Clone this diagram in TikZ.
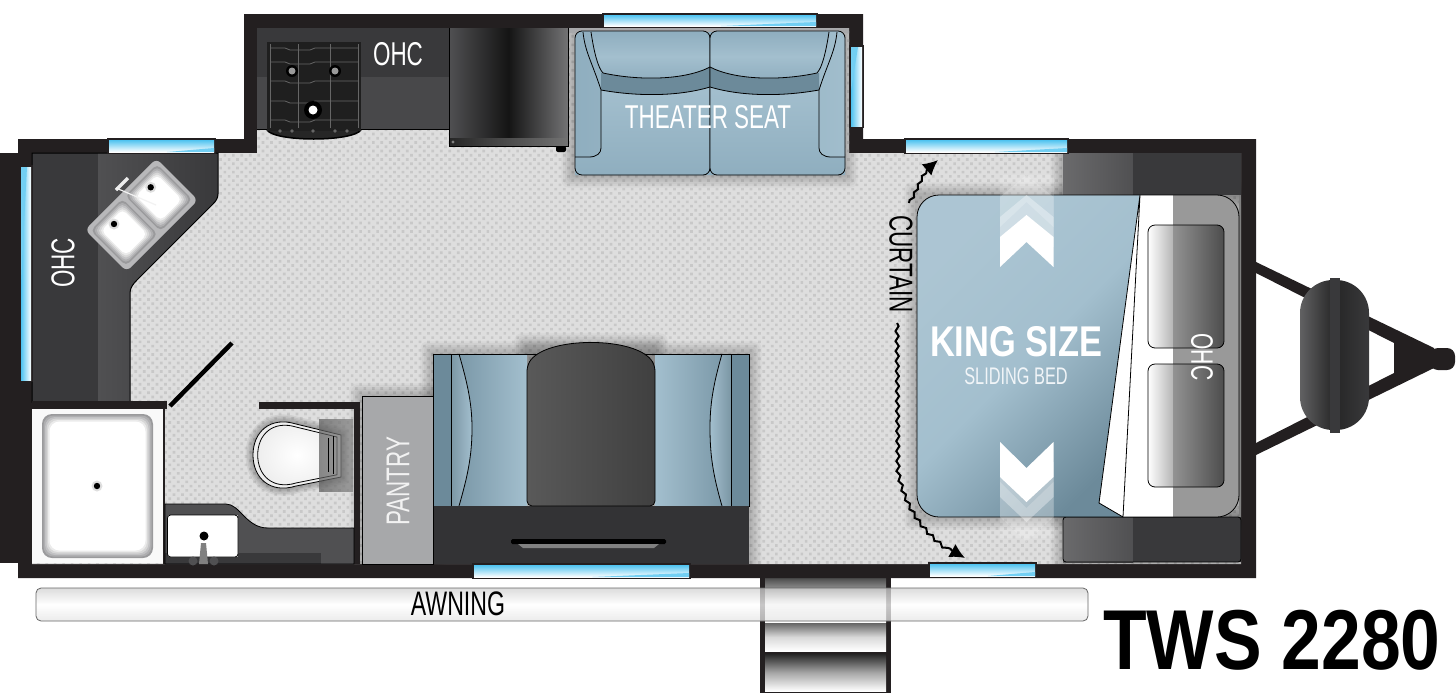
\documentclass[tikz,border=0pt]{standalone}
\usepackage{fontspec}
\usepackage{xcolor}
\usepackage{tikz}
\usetikzlibrary{arrows.meta,decorations.pathmorphing,patterns.meta}
\newfontfamily\signfont[FakeStretch=0.68]{Liberation Sans}
\newfontfamily\kingfont[FakeStretch=0.8]{Liberation Sans}
\newfontfamily\modelfont[FakeStretch=0.84]{Liberation Sans}
\definecolor{wallblack}{HTML}{231F20}
\definecolor{cabdark}{HTML}{39393B}
\definecolor{cabmid}{HTML}{505052}
\definecolor{floorbase}{HTML}{DEDEDE}
\definecolor{floordot}{HTML}{C8C8C8}
\definecolor{paneblue}{HTML}{4FC3F0}
\definecolor{seatlight}{HTML}{A3BFCE}
\definecolor{seatmid}{HTML}{8FAEBF}
\definecolor{seatdark}{HTML}{6C8A9A}
\definecolor{sidegray}{HTML}{A7A8AA}
\definecolor{bowlgray}{HTML}{9A9A9C}
\tikzset{
    signlabel/.style={font=\signfont\fontsize{#1}{#1}\selectfont,inner sep=0pt,text=white},
    rimline/.style={draw=black,line width=.8pt},
    drainring/.style={fill=white!75!gray},
    curtainline/.style={-{Latex[length=15pt,width=15pt]},black,line width=2pt,decorate},
}
\newcommand{\paneh}[4]{
    \fill[wallblack] (#1,#2) rectangle (#3,#4);
    \shade[top color=paneblue,bottom color=white] (#1+2,#2+2) rectangle (#3-2,#4-2);
    \fill[paneblue!80] ({#1+(#3-#1)*.55},#4-2) -- (#3-2,#4-2) -- (#3-2,#4-6) -- cycle;
}
\newcommand{\panev}[4]{
    \fill[wallblack] (#1,#2) rectangle (#3,#4);
    \shade[left color=paneblue,right color=white] (#1+2,#2+2) rectangle (#3-2,#4-2);
    \fill[paneblue!80] (#1+2,#2+2) -- (#3-6,#2+2) -- (#1+2,{#2+(#4-#2)*.55}) -- cycle;
}
\newcommand{\softshadow}[4]{
    \foreach \g in {1,...,7}{
        \fill[black,opacity=.032,rounded corners=\g pt] (#1-\g*1.8,#2-\g*1.8) rectangle (#3+\g*1.8,#4+\g*1.8);
    }
}
\newcommand{\softbowl}[5]{
    \foreach \g [evaluate=\g as \p using \g*20] in {0,...,5}{
        \fill[white!\p!bowlgray,rounded corners=#5] (#1+\g*1.5,#2+\g*1.5) rectangle (#3-\g*1.5,#4-\g*1.5);
    }
}
\newcommand{\drainhole}[2]{
    \fill[drainring] (#1,#2) circle (5.5);
    \fill[black] (#1,#2) circle (3.2);
}
\newcommand{\sofahalf}{
    \shade[left color=seatmid,right color=seatlight!90!seatmid,rounded corners=7pt] (575,31) rectangle (710,175);
    \shade[top color=seatlight,bottom color=seatmid] (601,90) .. controls (640,97) and (680,96) .. (710,87) -- (710,175) -- (575,175) -- (575,157) -- (589,157) .. controls (597,157) and (601,153) .. (601,148) -- cycle;
    \fill[seatdark] (601,73) .. controls (640,81) and (685,80) .. (710,67) -- (710,87) .. controls (680,96) and (640,97) .. (601,90) -- cycle;
    \shade[top color=seatmid,bottom color=seatmid,middle color=seatlight] (591,32) .. controls (594,52) and (598,68) .. (603,73) .. controls (640,81) and (685,80) .. (710,67) -- (710,32) -- cycle;
    \draw[rimline] (583,32) .. controls (585,52) and (592,62) .. (601,90) -- (601,148) .. controls (601,153) and (597,157) .. (589,157) -- (575,157);
    \draw[rimline] (591,32) .. controls (594,52) and (598,68) .. (603,73) .. controls (640,81) and (685,80) .. (710,67);
    \draw[rimline] (601,90) .. controls (640,97) and (680,96) .. (710,87);
    \draw[rimline,rounded corners=7pt] (575,31) rectangle (710,175);
}
\newcommand{\pillow}[2]{
    \begin{scope}
        \clip[rounded corners=7pt] (1148,#1) rectangle (1224,#2);
        \shade[left color=white,right color=gray!60] (1148,#1) rectangle (1174,#2);
        \shade[left color=gray!85,right color=black!70] (1173,#1) rectangle (1224,#2);
    \end{scope}
    \draw[rimline,rounded corners=7pt] (1148,#1) rectangle (1224,#2);
}
\newcommand{\chevronup}{(1000,237) -- (1026.5,215) -- (1053.5,237) -- (1053.5,267) -- (1026.5,242) -- (1000,267) -- cycle}
\newcommand{\chevrondown}{(1000,442) -- (1026.5,468) -- (1053.5,442) -- (1053.5,477) -- (1026.5,502) -- (1000,477) -- cycle}
\newcommand{\galleypath}{(32,153) -- (218,153) -- (218,194) .. controls (218,198) and (216,201) .. (213,204) -- (137,280) .. controls (133,284) and (130,288) .. (130,293) -- (130,402) -- (32,402) -- cycle}
\newcommand{\vanitypath}{(165,504) -- (226,504) .. controls (240,504) and (246,528) .. (268,528) -- (354,528) -- (354,564) -- (165,564) -- cycle}
\newcommand{\toiletpath}{(341,435) -- (296,424) .. controls (270,416) and (253,432) .. (253,455) .. controls (253,478) and (270,494) .. (296,486) -- (341,477) -- cycle}
\begin{document}
\begin{tikzpicture}[x=1pt,y=-1pt]

    \useasboundingbox (0,0) rectangle (1456,694);
    \fill[white] (0,0) rectangle (1456,694);

    % hitch
    \fill[wallblack] (1256,262) -- (1434,348) -- (1434,368) -- (1256,455) -- (1256,443) -- (1394,373) -- (1394,343) -- (1256,273) -- cycle;
    \fill[wallblack,rounded corners=8pt] (1430,348) rectangle (1455,370);
    \shade[left color=cabdark!80!white,right color=cabdark,middle color=black!85,rounded corners=33pt] (1300,280) rectangle (1369,430);
    \fill[cabdark] (1330,278) rectangle (1340,433);

    % steps and awning
    \fill[wallblack] (760,578) rectangle (891,693);
    \shade[top color=black!70,bottom color=white,middle color=black!15] (765,578) rectangle (886,622);
    \shade[top color=black!60,bottom color=white,middle color=black!15] (765,623) rectangle (886,651);
    \shade[top color=black!85,bottom color=white,middle color=black!35] (765,654) rectangle (886,691);
    \shade[top color=black!18,bottom color=black!10,middle color=white,opacity=.75,rounded corners=5pt] (36,588) rectangle (1088,621);
    \draw[black!60,line width=.8pt,rounded corners=5pt] (36,588) rectangle (1088,621);
    \node[signlabel=34,text=black] (awninglabel) at (458,604) {AWNING};

    % shell and floor
    \fill[wallblack] (0,153) rectangle (18,563);
    \fill[wallblack] (18,139) -- (244,139) -- (244,14) -- (863,14) -- (863,139) -- (1256,139) -- (1256,578) -- (18,578) -- cycle;
    \fill[floorbase] (32,153) -- (257,153) -- (257,28) -- (849,28) -- (849,153) -- (1241,153) -- (1241,564) -- (32,564) -- cycle;
    \fill[pattern={Dots[distance=6pt,radius=1.9pt,angle=45]},pattern color=floordot] (32,153) -- (257,153) -- (257,28) -- (849,28) -- (849,153) -- (1241,153) -- (1241,564) -- (32,564) -- cycle;

    \begin{scope}
        \clip (32,153) -- (257,153) -- (257,28) -- (849,28) -- (849,153) -- (1241,153) -- (1241,564) -- (32,564) -- cycle;
        \softshadow{574}{31}{845}{175}
        \softshadow{433}{354}{749}{564}
        \softshadow{527}{346}{655}{400}
        \softshadow{362}{396}{433}{564}
        \softshadow{917}{195}{1239}{517}
        \softshadow{1063}{153}{1241}{195}
        \softshadow{1063}{517}{1241}{564}
    \end{scope}

    % rear galley
    \begin{scope}
        \clip \galleypath;
        \fill[cabdark] (32,153) rectangle (98,402);
        \shade[left color=cabmid,right color=cabdark] (98,153) rectangle (218,402);
    \end{scope}
    \draw[black,line width=1pt] \galleypath;
    \begin{scope}[shift={(141.5,215)},rotate=45]
        \fill[bowlgray!70,rounded corners=6pt] (-50.5,-29.5) rectangle (50.5,29.5);
        \softbowl{-47}{-25}{-2}{25}{5pt}
        \softbowl{2}{-25}{47}{25}{5pt}
    \end{scope}
    \drainhole{150.7}{187.3}
    \drainhole{114}{224}
    \draw[white!85!gray,line width=3.5pt] (116,190) -- (128,178);
    \draw[white!90!gray,line width=1.2pt] (116,188) -- (156,205);
    \node[signlabel=33,rotate=90] (ohcrear) at (63,263) {OHC};

    % bath
    \fill[wallblack] (32,401) rectangle (167,409);
    \fill[white!95!gray] (32,409) rectangle (163,563);
    \fill[wallblack] (163,409) rectangle (165,564);
    \softbowl{42}{414}{153}{558}{10pt}
    \drainhole{97}{486}
    \fill[wallblack] (259,402) rectangle (360,409);
    \fill[wallblack] (354,402) rectangle (360,564);
    \draw[black,line width=4.5pt] (170,406) -- (232,343);
    \begin{scope}
        \clip \vanitypath;
        \fill[cabmid] (165,504) rectangle (354,564);
        \fill[cabdark] (165,553) rectangle (321,564);
    \end{scope}
    \draw[black,line width=.8pt] \vanitypath;
    \fill[white] (167.5,515) rectangle (238,557);
    \draw[black,line width=.8pt,rounded corners=3pt,fill=white] (167.5,515) rectangle (238,557);
    \fill[black] (204,536) circle (4.5);
    \fill[cabmid] (193,561) circle (4.5);
    \fill[cabmid] (214,561) circle (4.5);
    \fill[gray] (201,543) -- (206,543) -- (208,564) -- (199,564) -- cycle;
    \foreach \g in {1,...,5}{
        \draw[black,opacity=.06,line width=\g*3pt] \toiletpath;
    }
    \shade[inner color=white,outer color=white!85!gray,rimline] \toiletpath;
    \draw[black,line width=.8pt,scale around={.9:(300,455)}] \toiletpath;
    \shade[left color=gray!70!black,right color=gray,opacity=.7] (319,419) rectangle (353,491);
    \draw[black,line width=.8pt] (328,438) -- (328,472);
    \draw[black,line width=.8pt] (333,436) -- (333,474);

    % slide-out galley
    \fill[cabdark] (257,28) rectangle (450,77);
    \fill[cabmid!90!black] (257,77) rectangle (450,129);
    \draw[black,line width=1pt] (257,129) -- (450,129);
    \fill[black!85] (267,130) .. controls (275,142) and (352,142) .. (361,130) -- cycle;
    \draw[black,line width=1.5pt] (267,130) .. controls (275,142) and (352,142) .. (361,130);
    \fill[black!88] (267,42) rectangle (361,131);
    \foreach \gy in {48,62,81,101,120}{
        \draw[black!60,line width=.8pt] (270,\gy) -- (285,\gy) -- (290,\gy+2) -- (310,\gy+2) -- (315,\gy) -- (358,\gy);
    }
    \foreach \gx in {270,298,330,358}{
        \draw[black!60,line width=.8pt] (\gx,44) -- (\gx,128);
    }
    \foreach \gx in {280,292,313,335,347}{
        \fill[black!60] (\gx,131) circle (1.8);
    }
    \fill[black] (292,71) circle (6);
    \fill[black!40] (292,71) circle (3.5);
    \fill[black] (335,71) circle (6);
    \fill[black!40] (335,71) circle (3.5);
    \fill[black] (313,110) circle (9);
    \fill[white] (313,110) circle (4.5);
    \node[signlabel=33] (ohcgalley) at (398,54) {OHC};

    \fill[sidegray] (568,28) rectangle (849,33);
    \shade[left color=cabmid,right color=cabmid!80,middle color=black!92] (449,28) rectangle (568,146);
    \shade[left color=black!85,right color=black!55] (449,138) rectangle (568,146);
    \draw[black,line width=.8pt] (449,28) -- (449,146) -- (568,146) -- (568,28);
    \fill[black,rounded corners=2pt] (556,146) rectangle (566,152);
    \fill[black!50] (453,142) circle (1.6);

    % theater seat
    \sofahalf
    \begin{scope}[xshift=1420pt,xscale=-1]
        \sofahalf
    \end{scope}
    \node[signlabel=33] (theaterlabel) at (708,117) {THEATER SEAT};

    % dinette
    \shade[left color=seatdark,right color=seatlight] (433,354) rectangle (527,506);
    \shade[left color=seatlight,right color=seatdark] (655,354) rectangle (749,506);
    \fill[seatdark] (433,354) rectangle (451,506);
    \fill[seatdark] (731,354) rectangle (749,506);
    \shade[left color=seatdark!90,right color=seatlight] (451,354) -- (459,354) .. controls (468,385) and (472,405) .. (472,428) .. controls (472,455) and (468,475) .. (459,506) -- (451,506) -- cycle;
    \shade[left color=seatlight,right color=seatdark!90] (731,354) -- (722,354) .. controls (713,385) and (710,405) .. (710,428) .. controls (710,455) and (713,475) .. (722,506) -- (731,506) -- cycle;
    \draw[rimline] (433,354) rectangle (749,506);
    \draw[rimline] (451,354) -- (451,506);
    \draw[rimline] (731,354) -- (731,506);
    \draw[rimline] (459,354) .. controls (468,385) and (472,405) .. (472,428) .. controls (472,455) and (468,475) .. (459,506);
    \draw[rimline] (722,354) .. controls (713,385) and (710,405) .. (710,428) .. controls (710,455) and (713,475) .. (722,506);
    \fill[cabdark!90!black] (433,506) rectangle (749,564);
    \shade[left color=black!65,right color=black!75,rimline,rounded corners=5pt] (527,506) -- (527,366) .. controls (545,336) and (637,336) .. (655,366) -- (655,506) -- cycle;
    \fill[black,rounded corners=1.5pt] (511,539) rectangle (666,544);
    \fill[gray] (518,544) -- (659,544) -- (654,548) -- (523,548) -- cycle;

    \draw[black,line width=1pt,fill=sidegray] (362,396) rectangle (433,564);
    \node[signlabel=33,rotate=90,text=white!90!gray] (pantrylabel) at (398,481) {PANTRY};

    % slide bed
    \shade[left color=cabmid!85!white,right color=cabmid] (1063,153) rectangle (1133,195);
    \fill[cabdark] (1133,153) rectangle (1241,195);
    \shade[left color=cabmid!85!white,right color=cabmid] (1063,517) rectangle (1133,562);
    \fill[cabdark] (1133,517) rectangle (1241,562);
    \draw[black,line width=.8pt,rounded corners=3pt] (1063,517) rectangle (1241,562);
    \fill[gray] (1239,195) rectangle (1241,517);
    \begin{scope}
        \clip[rounded corners=22pt] (917,195) rectangle (1239,517);
        \fill[white] (917,195) rectangle (1239,517);
        \fill[gray!80] (1173,195) rectangle (1239,517);
        \pillow{225}{348}
        \pillow{364}{487}
        \shade[top color=seatlight!90!white,bottom color=seatdark,middle color=seatlight,shading angle=45] (917,195) -- (1140,195) -- (1099,503) -- (1123,517) -- (917,517) -- cycle;
        \draw[rimline] (1140,195) -- (1099,503) -- (1123,517) -- cycle;
    \end{scope}
    \draw[rimline,rounded corners=22pt] (917,195) rectangle (1239,517);
    \fill[white,opacity=.14] (1000,175) rectangle (1053.5,237);
    \fill[white,opacity=.14] (1000,477) rectangle (1053.5,538);
    \foreach \d/\o in {40/.2,20/.35}{
        \fill[white,opacity=\o,shift={(0,-\d)}] \chevronup;
        \fill[white,opacity=\o,shift={(0,\d)}] \chevrondown;
    }
    \fill[white] \chevronup;
    \fill[white] \chevrondown;
    \node[font=\kingfont\bfseries\fontsize{43}{43}\selectfont,inner sep=0pt,text=white] (kinglabel) at (1016,342) {KING SIZE};
    \node[signlabel=24,text=white!85!seatlight] (slidinglabel) at (1016,376) {SLIDING BED};
    \node[signlabel=31,rotate=-90] (ohcbed) at (1202,357) {OHC};

    % curtain
    \coordinate (curtainA) at (909,203);
    \coordinate (curtainB) at (938,160);
    \coordinate (curtainC) at (897,323);
    \coordinate (curtainD) at (898,470);
    \coordinate (curtainE) at (965,558);
    \node[signlabel=33,rotate=-90,text=black] (curtainlabel) at (901,264) {CURTAIN};
    \draw[curtainline,decoration={snake,amplitude=1.2pt,segment length=9pt,post length=12pt}] (curtainA) .. controls (918,190) and (920,172) .. (curtainB);
    \draw[curtainline,decoration={snake,amplitude=1.6pt,segment length=10pt,post length=12pt}] (curtainC) -- (curtainD) .. controls (905,510) and (930,540) .. (curtainE);

    % windows
    \paneh{107}{138}{216}{154}
    \panev{19}{165}{33}{382}
    \paneh{602}{13}{818}{28}
    \panev{849}{45}{864}{128}
    \paneh{904}{138}{1069}{154}
    \paneh{472}{563}{691}{579}
    \paneh{928}{562}{1037}{578}

    \node[font=\modelfont\bfseries\fontsize{85}{85}\selectfont,inner sep=0pt,text=black] (modellabel) at (1272,640) {TWS 2280};

\end{tikzpicture}
\end{document}
